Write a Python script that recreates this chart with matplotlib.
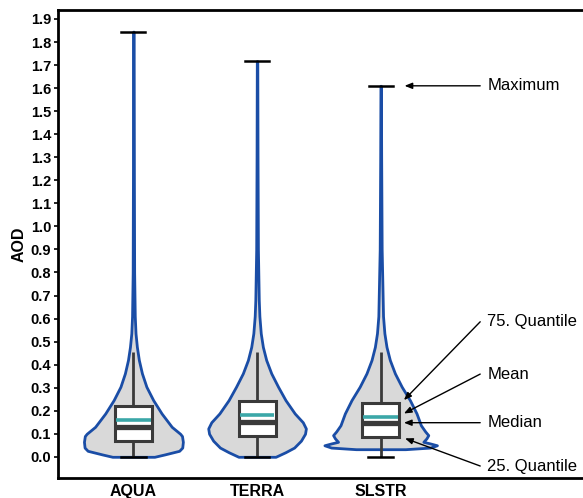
import numpy as np
import matplotlib
matplotlib.use("Agg")
import matplotlib.pyplot as plt

plt.rcParams['font.family'] = ['Liberation Sans', 'DejaVu Sans']

# ---------------- data ----------------
categories = ["AQUA", "TERRA", "SLSTR"]
q1 = [0.068, 0.090, 0.084]
median = [0.130, 0.152, 0.148]
mean = [0.159, 0.180, 0.174]
q3 = [0.221, 0.242, 0.235]
whisker_low = [0.0, 0.0, 0.0]
whisker_high = [0.456, 0.456, 0.456]
maximum = [1.845, 1.717, 1.610]

# violin outlines: AOD levels and half widths (density shape)
aqua_levels = [0.0, 0.01, 0.026, 0.04, 0.065, 0.09, 0.10, 0.13, 0.188, 0.246,
               0.304, 0.362, 0.42, 0.477, 0.536, 0.61, 0.8, 1.2, 1.845]
aqua_width = [0.17, 0.25, 0.37, 0.395, 0.40, 0.393, 0.378, 0.31, 0.228, 0.16,
              0.105, 0.069, 0.044, 0.028, 0.017, 0.011, 0.006, 0.004, 0.002]

terra_levels = [0.0, 0.02, 0.04, 0.07, 0.10, 0.123, 0.15, 0.188, 0.246, 0.304,
                0.362, 0.42, 0.477, 0.536, 0.61, 0.68, 0.9, 1.3, 1.717]
terra_width = [0.15, 0.23, 0.30, 0.355, 0.388, 0.395, 0.37, 0.305, 0.23, 0.17,
               0.115, 0.074, 0.047, 0.030, 0.019, 0.014, 0.007, 0.004, 0.002]

slstr_levels = [0.033, 0.04, 0.05, 0.058, 0.065, 0.08, 0.094, 0.11, 0.137, 0.188,
                0.246, 0.304, 0.362, 0.42, 0.477, 0.536, 0.61, 0.9, 1.3, 1.61]
slstr_width = [0.20, 0.40, 0.455, 0.40, 0.345, 0.37, 0.385, 0.36, 0.325, 0.29,
               0.236, 0.17, 0.115, 0.074, 0.047, 0.030, 0.019, 0.008, 0.004, 0.002]

violin_levels = [aqua_levels, terra_levels, slstr_levels]
violin_widths = [aqua_width, terra_width, slstr_width]

y_ticks = [round(0.1 * i, 1) for i in range(20)]

annot_labels = ["Maximum", "75. Quantile", "Mean", "Median", "25. Quantile"]
annot_targets = [1.61, 0.246, 0.188, 0.148, 0.080]
annot_text_y = [1.61, 0.586, 0.359, 0.148, -0.040]

# ---------------- figure ----------------
fig = plt.figure(figsize=(5.83, 4.98), dpi=100)
ax = fig.add_axes([58 / 583, 1 - 478 / 498, 1 - 58 / 583 + 0.005, (478 - 10) / 498])

positions = [1, 2, 3]
violin_face = "#d9d9d9"
violin_edge = "#1a4da6"
box_edge = "#3a3a3a"
mean_color = "#3ba7a8"

for i, pos in enumerate(positions):
    lv = np.array(violin_levels[i])
    w = np.array(violin_widths[i])
    ax.fill_betweenx(lv, pos - w, pos + w, facecolor=violin_face,
                     edgecolor=violin_edge, linewidth=2.0, zorder=1)
    # whiskers
    ax.plot([pos, pos], [whisker_low[i], q1[i]], color=box_edge, lw=2.0, zorder=2,
            solid_capstyle='butt')
    ax.plot([pos, pos], [q3[i], whisker_high[i]], color=box_edge, lw=2.0, zorder=2,
            solid_capstyle='butt')
    # caps
    ax.plot([pos - 0.1, pos + 0.1], [whisker_low[i]] * 2, color="black", lw=1.8, zorder=3)
    ax.plot([pos - 0.097, pos + 0.097], [maximum[i]] * 2, color="black", lw=1.8, zorder=3)
    # box
    hb = 0.15
    rect = plt.Rectangle((pos - hb, q1[i]), 2 * hb, q3[i] - q1[i], facecolor="white",
                         edgecolor=box_edge, lw=2.2, zorder=3)
    ax.add_patch(rect)
    ax.plot([pos - hb, pos + hb], [median[i]] * 2, color=box_edge, lw=3.8, zorder=4,
            solid_capstyle='butt')
    ax.plot([pos - hb + 0.01, pos + hb - 0.01], [mean[i]] * 2, color=mean_color, lw=2.6,
            zorder=4, solid_capstyle='butt')

ax.set_xlim(0.39, 4.66)
ax.set_ylim(-0.092, 1.939)
ax.set_yticks(y_ticks)
ax.set_yticklabels([f"{t:.1f}" for t in y_ticks], fontweight='bold', fontsize=10.5)
ax.set_xticks(positions)
ax.set_xticklabels(categories, fontweight='bold', fontsize=11.5)
ax.tick_params(axis='x', length=0, pad=4)
ax.tick_params(axis='y', length=3, width=1.2, pad=2)
ax.set_ylabel("AOD", fontweight='bold', fontsize=11.5, labelpad=3)

for s in ["left", "top", "bottom"]:
    ax.spines[s].set_linewidth(2.0)
    ax.spines[s].set_color("black")
ax.spines["right"].set_visible(False)

# annotations
arrow_start_x = 3.805
text_x = 3.862
arrow_end_x = [3.193, 3.188, 3.188, 3.188, 3.197]
for lab, ty, tgt, ex in zip(annot_labels, annot_text_y, annot_targets, arrow_end_x):
    ax.annotate("", xy=(ex, tgt), xytext=(arrow_start_x, ty),
                arrowprops=dict(arrowstyle="-|>,head_length=0.45,head_width=0.18",
                                color="black", lw=1.0, shrinkA=0, shrinkB=0),
                annotation_clip=False)
    ax.text(text_x, ty, lab, fontsize=12, va='center', ha='left', clip_on=False)

fig.savefig("out.png", dpi=100)
